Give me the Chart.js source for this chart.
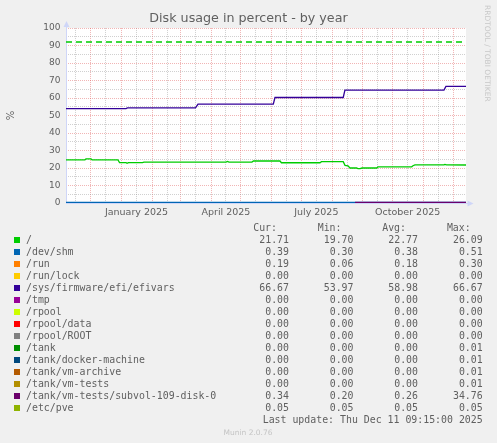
<!DOCTYPE html>
<html>
<head>
<meta charset="utf-8">
<title>Disk usage in percent - by year</title>
<script src="https://cdn.jsdelivr.net/npm/chart.js@4.4.1/dist/chart.umd.min.js"></script>
<style>
html, body { margin:0; padding:0; background:#F0F0F0; }
#wrap { position:relative; width:497px; height:443px; overflow:hidden; background:#F0F0F0; }
#chart { position:absolute; left:0; top:0; }
.t { position:absolute; white-space:pre; font-family:"DejaVu Sans Mono", monospace; font-size:9.9px; line-height:12px; color:#606060; }
.r { text-align:right; width:300px; }
.sw { position:absolute; width:6px; height:6px; }
#rrd { position:absolute; left:483px; top:5px; writing-mode:vertical-rl; font-family:"DejaVu Sans"; font-size:7.5px; line-height:9px; color:#c8c8c8; white-space:pre; }
#munin { position:absolute; left:0; top:428px; width:496px; text-align:center; font-family:"DejaVu Sans"; font-size:7.5px; line-height:9px; color:#c4c4c4; white-space:pre; }
</style>
</head>
<body>
<div id="wrap">
<canvas id="chart" width="497" height="443"></canvas>
<div id="legend"></div>
<div id="rrd">RRDTOOL / TOBI OETIKER</div>
<div id="munin">Munin 2.0.76</div>
</div>
<script>
// ---------- DATA ----------
// x values are days since 2024-11-06 (start of the 400-day "year" window)
const seriesNames = ['/', '/dev/shm', '/run', '/run/lock', '/sys/firmware/efi/efivars', '/tmp', '/rpool', '/rpool/data', '/rpool/ROOT', '/tank', '/tank/docker-machine', '/tank/vm-archive', '/tank/vm-tests', '/tank/vm-tests/subvol-109-disk-0', '/etc/pve'];
const seriesColors = ['#00CC00', '#0066B3', '#FF8000', '#FFCC00', '#330099', '#990099', '#CCFF00', '#FF0000', '#808080', '#008F00', '#00487D', '#B35A00', '#B38F00', '#6B006B', '#8FB300'];
const curValues = [21.71, 0.39, 0.19, 0.00, 66.67, 0.00, 0.00, 0.00, 0.00, 0.00, 0.00, 0.00, 0.00, 0.34, 0.05];
const minValues = [19.70, 0.30, 0.06, 0.00, 53.97, 0.00, 0.00, 0.00, 0.00, 0.00, 0.00, 0.00, 0.00, 0.20, 0.05];
const avgValues = [22.77, 0.38, 0.18, 0.00, 58.98, 0.00, 0.00, 0.00, 0.00, 0.00, 0.00, 0.00, 0.00, 0.26, 0.05];
const maxValues = [26.09, 0.51, 0.30, 0.00, 66.67, 0.00, 0.00, 0.00, 0.00, 0.01, 0.01, 0.01, 0.01, 34.76, 0.05];

const rootDays   = [0, 19.1, 20.1, 25.2, 26.2, 52.3, 53.9, 60.4, 61.4, 62.9, 77.0, 78.5, 161.1, 162.6, 164.1, 187.2, 188.7, 215.4, 216.9, 255.7, 257.2, 279.1, 280.9, 283.9, 285.9, 292.6, 293.9, 296.0, 298.0, 312.8, 314.1, 348.0, 349.3, 351.3, 380.5, 381.5, 383.0, 402.7];
const rootValues = [24.6, 24.6, 25.2, 25.2, 24.6, 24.6, 23.1, 23.1, 22.7, 23.1, 23.1, 23.4, 23.4, 23.8, 23.4, 23.4, 24.0, 24.0, 23.0, 23.0, 23.6, 23.6, 21.5, 21.2, 20.0, 20.0, 19.7, 19.7, 20.0, 20.0, 20.7, 20.7, 21.3, 21.8, 21.8, 22.1, 21.8, 21.71];

const efiDays   = [0, 60.4, 61.9, 130.4, 132.9, 208.7, 210.4, 279.1, 280.8, 380.5, 382.5, 402.7];
const efiValues = [53.97, 53.97, 54.4, 54.4, 56.5, 56.5, 60.3, 60.3, 64.5, 64.5, 66.67, 66.67];

const fullDays   = [0, 402.7];
const shmValues  = [0.38, 0.39];
const runValues  = [0.18, 0.19];
const zeroValues = [0, 0];
const pveValues  = [0.05, 0.05];
const subvolDays   = [291, 402.7];
const subvolValues = [0.30, 0.34];

const warnDays   = [0, 402.7];
const warnValues = [92, 92];

const xTickLabels = ['January 2025', 'April 2025', 'July 2025', 'October 2025'];
const xTickDates  = ['2025-01-16', '2025-04-16', '2025-07-16', '2025-10-16'];
const yTickValues = [0, 5, 10, 15, 20, 25, 30, 35, 40, 45, 50, 55, 60, 65, 70, 75, 80, 85, 90, 95, 100];
const lastUpdate = 'Last update: Thu Dec 11 09:15:00 2025';

// ---------- helpers ----------
const startMs = Date.UTC(2024, 10, 6);
const X_MAX = 402.7;
const dayOf = (y, m, d) => (Date.UTC(y, m, d) - startMs) / 86400000;
const dayOfStr = s => { const [y, m, d] = s.split('-').map(Number); return dayOf(y, m - 1, d); };

const seriesData = [
  [rootDays, rootValues],
  [fullDays, shmValues],
  [fullDays, runValues],
  [fullDays, zeroValues],
  [efiDays, efiValues],
  [fullDays, zeroValues],
  [fullDays, zeroValues],
  [fullDays, zeroValues],
  [fullDays, zeroValues],
  [fullDays, zeroValues],
  [fullDays, zeroValues],
  [fullDays, zeroValues],
  [fullDays, zeroValues],
  [subvolDays, subvolValues],
  [fullDays, pveValues]
];
// drawing layer (lower = on top); keeps the visible blue / purple bottom line as in the picture
const drawOrder = [-5, -10, 6, 7, -6, 8, 9, 10, 11, 12, 13, 14, 15, -20, 5];
const pts = (ds, vs) => ds.map((d, i) => ({x: d, y: vs[i]}));

// x ticks: month starts (major) + 16th of each month (minor, carries labels)
const xTicks = [];
for (let y = 2024, m = 10; y < 2026; ) {
  const d1 = dayOf(y, m, 1), d16 = dayOf(y, m, 16);
  if (d1 >= 0 && d1 <= X_MAX) xTicks.push({value: d1, kind: 'major', lbl: ''});
  if (d16 >= 0 && d16 <= X_MAX) {
    const li = xTickDates.findIndex(s => Math.abs(dayOfStr(s) - d16) < 0.01);
    xTicks.push({value: d16, kind: 'minor', lbl: li >= 0 ? xTickLabels[li] : ''});
  }
  m++; if (m > 11) { m = 0; y++; }
}
const yTicks = yTickValues.map(v => ({value: v, kind: v % 10 === 0 ? 'major' : 'minor', lbl: v % 10 === 0 ? String(v) : ''}));

const MGRID = 'rgba(222,79,79,0.42)';
const GRID = 'rgba(143,143,143,0.42)';
const FONT_COLOR = '#606060';

const datasets = [{
  label: 'warn',
  data: pts(warnDays, warnValues),
  borderColor: '#00CC00',
  borderWidth: 1.6,
  borderDash: [6, 4],
  pointRadius: 0,
  fill: false,
  order: 100
}];
seriesNames.forEach((n, i) => {
  const [ds, vs] = seriesData[i];
  datasets.push({
    label: n,
    data: pts(ds, vs),
    borderColor: seriesColors[i],
    backgroundColor: seriesColors[i],
    borderWidth: 1.3,
    pointRadius: 0,
    fill: false,
    tension: 0,
    order: drawOrder[i]
  });
});

const muninPlugin = {
  id: 'muninDeco',
  beforeDraw(chart) {
    const {ctx, chartArea: a} = chart;
    ctx.save();
    ctx.fillStyle = '#FFFFFF';
    ctx.fillRect(a.left, a.top, a.right - a.left, a.bottom - a.top);
    ctx.restore();
  },
  beforeDatasetsDraw(chart) {
    const {ctx, chartArea: a} = chart;
    ctx.save();
    ctx.strokeStyle = '#CFD6F8';
    ctx.fillStyle = '#CFD6F8';
    ctx.lineWidth = 1;
    ctx.beginPath();
    ctx.moveTo(a.left + 0.5, a.bottom + 1);
    ctx.lineTo(a.left + 0.5, a.top - 3);
    ctx.moveTo(a.left, a.bottom + 0.5);
    ctx.lineTo(a.right + 3, a.bottom + 0.5);
    ctx.stroke();
    ctx.beginPath();
    ctx.moveTo(a.left + 0.5, a.top - 7);
    ctx.lineTo(a.left - 2.5, a.top - 1);
    ctx.lineTo(a.left + 3.5, a.top - 1);
    ctx.closePath();
    ctx.fill();
    ctx.beginPath();
    ctx.moveTo(a.right + 7.5, a.bottom + 0.5);
    ctx.lineTo(a.right + 1.5, a.bottom - 2.5);
    ctx.lineTo(a.right + 1.5, a.bottom + 3.5);
    ctx.closePath();
    ctx.fill();
    ctx.restore();
  }
};

Chart.defaults.font.family = 'DejaVu Sans';
Chart.defaults.color = FONT_COLOR;

new Chart(document.getElementById('chart'), {
  type: 'line',
  data: {datasets},
  options: {
    responsive: false,
    animation: false,
    events: [],
    layout: {padding: {left: 0, right: 0, top: 0, bottom: 220}},
    plugins: {
      legend: {display: false},
      tooltip: {enabled: false},
      title: {
        display: true,
        text: 'Disk usage in percent - by year',
        color: FONT_COLOR,
        font: {family: 'DejaVu Sans', size: 12.7, weight: 'normal'},
        padding: {top: 11, bottom: 1.8}
      }
    },
    scales: {
      x: {
        type: 'linear',
        min: 0,
        max: X_MAX,
        afterBuildTicks: s => { s.ticks = xTicks.map(t => ({...t})); },
        afterFit: s => { s.height = 20; },
        grid: {
          color: c => (c.tick && c.tick.kind === 'major') ? MGRID : GRID,
          drawTicks: false
        },
        border: {display: false, dash: [1, 1]},
        ticks: {
          autoSkip: false,
          maxRotation: 0,
          minRotation: 0,
          padding: 4,
          color: FONT_COLOR,
          font: {family: 'DejaVu Sans', size: 9.5},
          callback: (v, i, ticks) => ticks[i].lbl || ''
        }
      },
      y: {
        type: 'linear',
        min: 0,
        max: 100,
        afterBuildTicks: s => { s.ticks = yTicks.map(t => ({...t})); },
        afterFit: s => { s.width = 66; },
        grid: {
          color: c => (c.tick && c.tick.kind === 'major') ? MGRID : GRID,
          drawTicks: false
        },
        border: {display: false, dash: [1, 1]},
        title: {
          display: true,
          text: '%',
          color: FONT_COLOR,
          font: {family: 'DejaVu Sans', size: 10},
          padding: {top: 5, bottom: 0}
        },
        ticks: {
          autoSkip: false,
          padding: 5.5,
          color: FONT_COLOR,
          font: {family: 'DejaVu Sans', size: 9},
          callback: (v, i, ticks) => ticks[i].lbl || ''
        }
      },
      yRight: {
        type: 'linear',
        position: 'right',
        min: 0,
        max: 100,
        afterFit: s => { s.width = 31; },
        grid: {display: false, drawTicks: false},
        border: {display: false},
        ticks: {display: false}
      }
    }
  },
  plugins: [muninPlugin]
});

// ---------- legend (real text) ----------
const legend = document.getElementById('legend');
const ROW0 = 233.8, ROWH = 12;
const colRights = [289, 353.5, 418, 482.7];
const headers = ['Cur:', 'Min:', 'Avg:', 'Max:'];
function addText(txt, left, top, right) {
  const el = document.createElement('div');
  el.className = 't' + (right ? ' r' : '');
  el.textContent = txt;
  el.style.top = top + 'px';
  el.style.left = (right ? left - 300 : left) + 'px';
  legend.appendChild(el);
}
headers.forEach((h, j) => addText(h, colRights[j] - 12, ROW0 - ROWH, true));
seriesNames.forEach((n, i) => {
  const top = ROW0 + ROWH * i;
  const sw = document.createElement('div');
  sw.className = 'sw';
  sw.style.left = '14px';
  sw.style.top = (237 + ROWH * i) + 'px';
  sw.style.background = seriesColors[i];
  legend.appendChild(sw);
  addText(n, 26, top, false);
  [curValues, minValues, avgValues, maxValues].forEach((arr, j) => addText(arr[i].toFixed(2), colRights[j], top, true));
});
addText(lastUpdate, colRights[3], ROW0 + ROWH * seriesNames.length, true);
</script>
</body>
</html>
